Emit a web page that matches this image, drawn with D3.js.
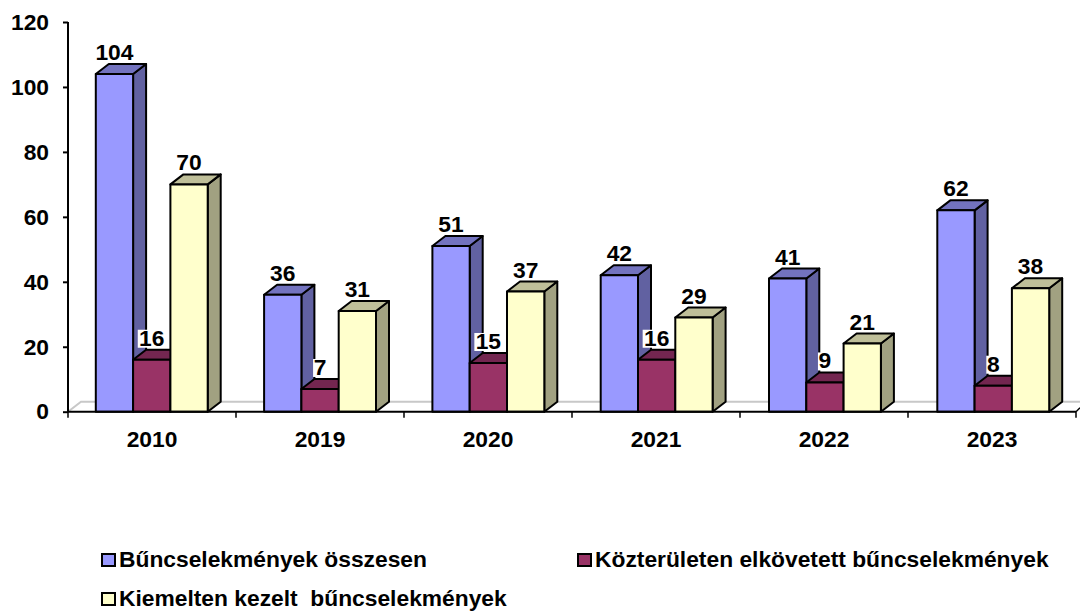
<!DOCTYPE html>
<html><head><meta charset="utf-8">
<script src="https://cdn.jsdelivr.net/npm/d3@7/dist/d3.min.js"></script>
<style>html,body{margin:0;padding:0;background:#fff}svg{display:block}text{font-family:"Liberation Sans",Arial,sans-serif;font-weight:bold;fill:#000}</style>
</head><body><svg id="c" width="1080" height="613"></svg>
<script>
const categories=["2010","2019","2020","2021","2022","2023"];
const seriesNames=["Bűncselekmények összesen","Közterületen elkövetett bűncselekmények","Kiemelten kezelt  bűncselekmények"];
const total=[104,36,51,42,41,62];
const publicPlace=[16,7,15,16,9,8];
const priority=[70,31,37,29,21,38];
const seriesValues=[total,publicPlace,priority];
const yTicks=[0,20,40,60,80,100,120];
const front=["#9999ff","#993366","#ffffcc"];
const topC=["#7373bf","#732650","#bfbf99"];
const sideC=["#6161a1","#612041","#a1a181"];

const svg=d3.select("#c");
const dx=13,dy=10,bw=37.3,fs=22.8;
const xTick=d3.scaleBand().domain(categories).range([68,1076]);
const x0=d3.scaleBand().domain(categories).range([67.8,67.8+6*168.3]);
const xs=d3.scaleBand().domain([0,1,2]).range([28,28+3*bw]);
const y=d3.scaleLinear().domain([0,120]).range([411.7,22]);

// floor
svg.append("path").attr("d",`M${68},${y(0)} L${68+dx},${y(0)-dy} H1080`).attr("fill","none").attr("stroke","#c8c8c8").attr("stroke-width",2);
svg.append("path").attr("d",`M1076,${y(0)} L1080,${y(0)-4}`).attr("fill","none").attr("stroke","#000").attr("stroke-width",1.5);

// axes
const gy=svg.append("g").attr("transform","translate(68,0)").call(d3.axisLeft(y).tickValues(yTicks).tickSize(5).tickPadding(14));
gy.selectAll("path,line").attr("stroke","#000").attr("stroke-width",2);
gy.select("path").attr("d",`M0,${y(120)}V${y(0)}`);
gy.selectAll("text").attr("font-size",fs).attr("font-family",'"Liberation Sans"');

// bars
const g=svg.append("g");
categories.forEach((c,i)=>{
  seriesValues.forEach((vals,s)=>{
    const xL=x0(c)+xs(s),xR=xL+bw,t=y(vals[i]),b=y(0);
    const bar=g.append("g").attr("stroke","#000").attr("stroke-width",2).attr("stroke-linejoin","round");
    bar.append("path").attr("fill",sideC[s]).attr("d",`M${xR},${t}L${xR+dx},${t-dy}V${b-dy}L${xR},${b}Z`);
    bar.append("path").attr("fill",topC[s]).attr("d",`M${xL},${t}L${xL+dx},${t-dy}H${xR+dx}L${xR},${t}Z`);
    bar.append("rect").attr("fill",front[s]).attr("x",xL).attr("y",t).attr("width",bw).attr("height",b-t);
  });
});

// x axis
const gx=svg.append("g").attr("transform",`translate(0,${y(0)})`).call(d3.axisBottom(xTick).tickSize(0).tickPadding(19));
gx.selectAll("path").attr("stroke","#000").attr("stroke-width",2).attr("d","M68,0H1076");
gx.selectAll("line").remove();
gx.selectAll("text").attr("font-size",fs).attr("font-family",'"Liberation Sans"');
svg.append("g").attr("transform",`translate(0,${y(0)})`).selectAll("line").data(d3.range(7)).join("line")
  .attr("x1",i=>68+i*xTick.step()).attr("x2",i=>68+i*xTick.step()).attr("y1",0).attr("y2",6).attr("stroke","#000").attr("stroke-width",1.5);

// data labels
const lab=svg.append("g");
categories.forEach((c,i)=>{
  seriesValues.forEach((vals,s)=>{
    const cx=x0(c)+xs(s)+bw/2,t=y(vals[i]);
    const yb=t-dy-4;
    if(s===1) lab.append("rect").attr("x",cx-(vals[i]<10?7:14)).attr("y",yb-16).attr("width",vals[i]<10?14:28).attr("height",18).attr("fill","#fff");
    lab.append("text").attr("x",cx).attr("y",yb).attr("text-anchor","middle").attr("font-size",fs).text(vals[i]);
  });
});

// legend
const legendPos=[[102,567],[578,567],[102,606]];
const lg=svg.append("g");
seriesNames.forEach((n,s)=>{
  const [lx,ly]=legendPos[s];
  lg.append("rect").attr("x",lx).attr("y",ly-13).attr("width",13).attr("height",12).attr("fill",front[s]).attr("stroke","#000").attr("stroke-width",2);
  lg.append("text").attr("x",lx+17).attr("y",ly).attr("font-size",fs).style("white-space","pre").text(n);
});
</script></body></html>
